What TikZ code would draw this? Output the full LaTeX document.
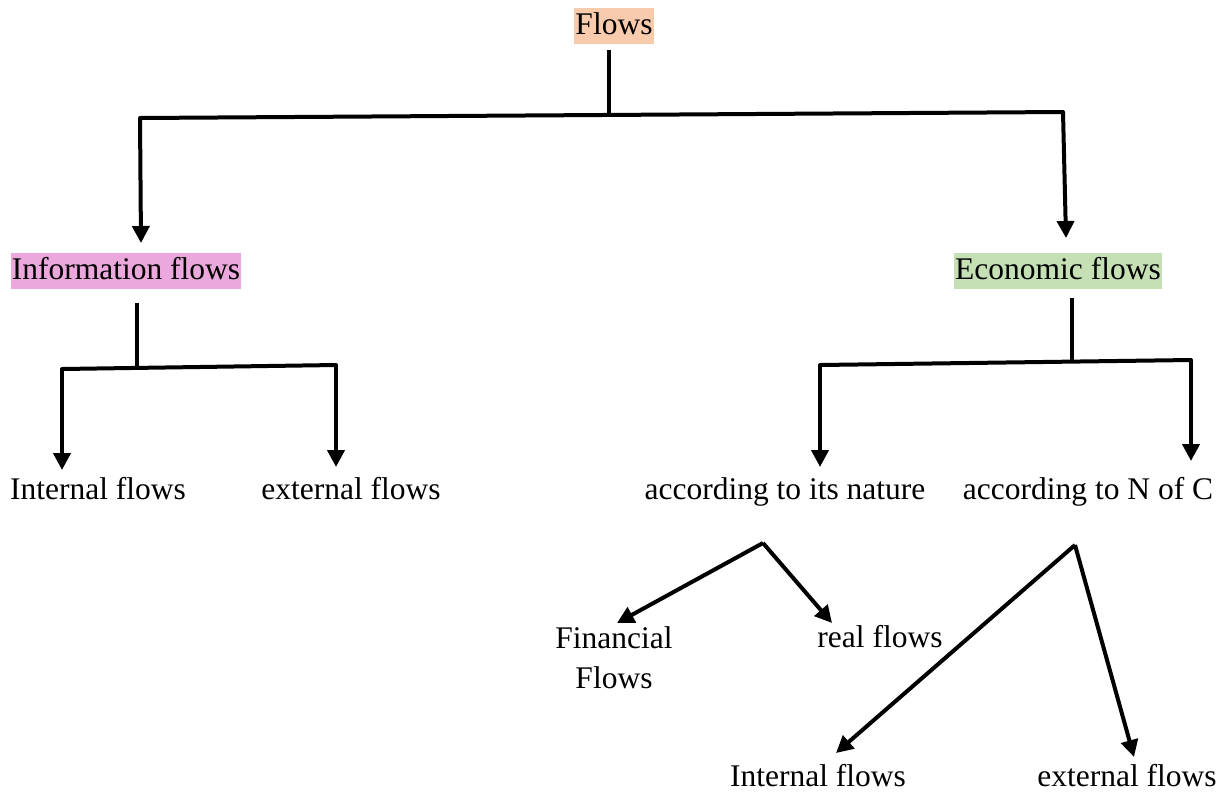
\documentclass[tikz,border=0pt]{standalone}
\usepackage{fontspec}
\setmainfont{Liberation Serif}
\usetikzlibrary{arrows.meta}
\definecolor{peach}{HTML}{F8CBAD}
\definecolor{pinkhl}{HTML}{EAA8DC}
\definecolor{greenhl}{HTML}{C5E0B4}
\begin{document}
\begin{tikzpicture}[x=1pt,y=-1pt,
  lbl/.style={inner sep=0pt,font=\fontsize{31.5}{40}\selectfont,text height=23pt,text depth=7pt,align=center},
  hl/.style={lbl,inner xsep=1pt,inner ysep=3pt},
  ln/.style={line width=4pt},
  arr/.style={line width=4pt,-{Triangle[length=17pt,width=17pt]}}]
\useasboundingbox (0,0) rectangle (1228,796);
% nodes
\node[hl,fill=peach] (flows) at (614,26) {Flows};
\node[hl,fill=pinkhl] (info) at (126,271) {Information flows};
\node[hl,fill=greenhl] (eco) at (1058,271) {Economic flows};
\node[lbl] (iint) at (98,491) {Internal flows};
\node[lbl] (iext) at (351,491) {external flows};
\node[lbl] (nat) at (785,491) {according to its nature};
\node[lbl] (noc) at (1088,491) {according to N of C};
\node[lbl] (fin) at (614,680) {Financial\\Flows};
\node[lbl] (real) at (880,639) {real flows};
\node[lbl] (eint) at (818,778) {Internal flows};
\node[lbl] (eext) at (1127,778) {external flows};
% coordinates
\coordinate (f0) at (609,50);
\coordinate (f1) at (609,115);
\coordinate (fl) at (140,118);
\coordinate (fr) at (1063,112);
\coordinate (i0) at (137,303);
\coordinate (i1) at (137,367);
\coordinate (il) at (62,369);
\coordinate (ir) at (336,365);
\coordinate (e0) at (1072,298);
\coordinate (e1) at (1072,362);
\coordinate (el) at (820,365);
\coordinate (er) at (1191,360);
\coordinate (n0) at (763,543);
\coordinate (c0) at (1075,545);
% connectors
\draw[ln] (f0) -- (f1);
\draw[ln,line cap=round] (fl) -- (fr);
\draw[arr] (fl) -- (141,243);
\draw[arr] (fr) -- (1066,238);
\draw[ln] (i0) -- (i1);
\draw[ln,line cap=round] (il) -- (ir);
\draw[arr] (il) -- (62,470);
\draw[arr] (ir) -- (336,467);
\draw[ln] (e0) -- (e1);
\draw[ln,line cap=round] (el) -- (er);
\draw[arr] (el) -- (820,467);
\draw[arr] (er) -- (1191,461);
\draw[arr] (n0) -- (617,623);
\draw[arr] (n0) -- (832,623);
\draw[arr] (c0) -- (836,753);
\draw[arr] (c0) -- (1134,757);
\end{tikzpicture}
\end{document}
